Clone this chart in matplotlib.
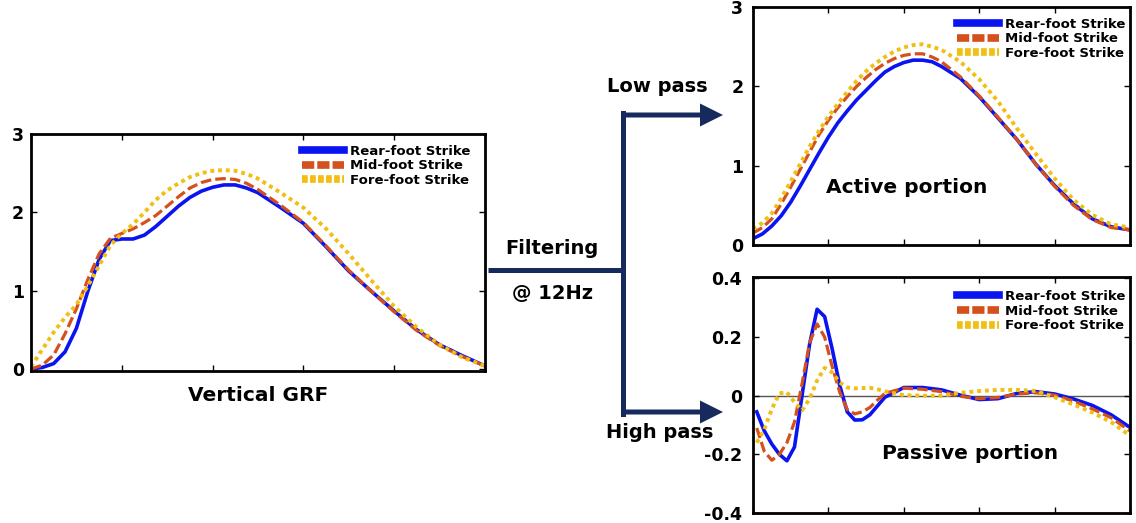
import matplotlib
matplotlib.use('Agg')
import matplotlib.pyplot as plt
from matplotlib.patches import FancyArrow

plt.rcParams['font.family'] = ['DejaVu Sans']
plt.rcParams['font.weight'] = 'bold'
plt.rcParams['axes.unicode_minus'] = False

# stance phase (%) for the raw GRF and the low pass part
stance_pct = [0, 2.5, 5, 7.5, 10, 12.5, 15, 17.5, 20, 22.5, 25, 27.5, 30, 32.5, 35,
              37.5, 40, 42.5, 45, 47.5, 50, 55, 60, 65, 70, 75, 80, 85, 90, 95, 100]

# vertical GRF (BW)
grf_rear = [0.0, 0.02, 0.07, 0.22, 0.52, 0.99, 1.40, 1.64, 1.66, 1.66, 1.71, 1.82, 1.95, 2.08, 2.19,
            2.27, 2.32, 2.35, 2.35, 2.31, 2.25, 2.06, 1.86, 1.56, 1.25, 0.99, 0.74, 0.50, 0.31, 0.17, 0.04]
grf_mid = [0.0, 0.05, 0.18, 0.45, 0.77, 1.14, 1.47, 1.67, 1.73, 1.79, 1.87, 1.96, 2.08, 2.20, 2.31,
           2.38, 2.42, 2.43, 2.42, 2.37, 2.29, 2.09, 1.87, 1.57, 1.26, 0.99, 0.73, 0.49, 0.30, 0.16, 0.04]
grf_fore = [0.03, 0.25, 0.47, 0.66, 0.82, 1.06, 1.32, 1.58, 1.73, 1.85, 2.00, 2.16, 2.28, 2.37, 2.45,
            2.50, 2.53, 2.54, 2.53, 2.49, 2.43, 2.25, 2.06, 1.79, 1.47, 1.13, 0.80, 0.53, 0.31, 0.15, 0.04]

# low pass (active portion)
active_rear = [0.08, 0.14, 0.24, 0.37, 0.54, 0.74, 0.95, 1.16, 1.36, 1.54, 1.69, 1.83, 1.95, 2.07, 2.18,
               2.25, 2.30, 2.33, 2.33, 2.31, 2.25, 2.10, 1.87, 1.60, 1.33, 1.02, 0.75, 0.52, 0.33, 0.23, 0.19]
active_mid = [0.15, 0.22, 0.33, 0.52, 0.73, 0.95, 1.17, 1.39, 1.57, 1.73, 1.87, 2.00, 2.11, 2.21, 2.29,
              2.35, 2.39, 2.41, 2.41, 2.37, 2.31, 2.12, 1.88, 1.61, 1.33, 1.02, 0.74, 0.50, 0.32, 0.22, 0.19]
active_fore = [0.20, 0.28, 0.40, 0.59, 0.80, 1.02, 1.24, 1.44, 1.62, 1.78, 1.93, 2.07, 2.19, 2.29, 2.37,
               2.44, 2.49, 2.52, 2.53, 2.50, 2.46, 2.31, 2.09, 1.81, 1.47, 1.15, 0.84, 0.57, 0.38, 0.26, 0.22]

# high pass (passive portion)
passive_pct = [1, 3, 5, 7, 9, 11, 13, 15, 17, 19, 21, 23, 25, 27, 29, 31, 33, 35,
               40, 45, 50, 55, 60, 65, 70, 75, 80, 85, 90, 95, 100]
passive_rear = [-0.055, -0.12, -0.165, -0.20, -0.222, -0.175, 0.0, 0.175, 0.295, 0.27, 0.16, 0.035, -0.055,
                -0.083, -0.082, -0.065, -0.035, -0.005, 0.028, 0.028, 0.02, 0.002, -0.013, -0.01, 0.008,
                0.014, 0.006, -0.011, -0.033, -0.065, -0.108]
passive_mid = [-0.11, -0.19, -0.22, -0.20, -0.16, -0.09, 0.04, 0.18, 0.245, 0.20, 0.10, 0.012, -0.047,
               -0.062, -0.055, -0.04, -0.015, 0.008, 0.026, 0.022, 0.014, -0.002, -0.01, -0.006, 0.006,
               0.01, 0.002, -0.018, -0.045, -0.075, -0.12]
passive_fore = [-0.16, -0.115, -0.045, 0.008, 0.012, -0.022, -0.05, -0.011, 0.052, 0.095, 0.08, 0.045, 0.028,
                0.025, 0.026, 0.027, 0.022, 0.015, 0.002, 0.0, 0.0, 0.01, 0.016, 0.02, 0.02, 0.016, -0.005,
                -0.03, -0.057, -0.09, -0.136]

labels = ['Rear-foot Strike', 'Mid-foot Strike', 'Fore-foot Strike']
grf_ticks = [0, 1, 2, 3]
passive_ticks = [-0.4, -0.2, 0, 0.2, 0.4]
passive_ticklabels = ['-0.4', '-0.2', '0', '0.2', '0.4']
x_ticks = [0, 20, 40, 60, 80, 100]

BLUE = '#0a14f0'
RED = '#d4501c'
YELLOW = '#f0bf12'
NAVY = '#172a5e'

fig = plt.figure(figsize=(11.36, 5.23), dpi=100)

# overlay in pixel coords for the filter diagram
ov = fig.add_axes([0, 0, 1, 1])
ov.set_xlim(0, 1136)
ov.set_ylim(523, 0)
ov.axis('off')
ov.plot([488, 623], [270, 270], color=NAVY, lw=3.6, solid_capstyle='butt')
ov.plot([623, 623], [113, 414], color=NAVY, lw=3.6, solid_capstyle='projecting')
ov.add_patch(FancyArrow(621, 115, 102, 0, width=5, head_width=23, head_length=23,
                        length_includes_head=True, color=NAVY, lw=0))
ov.add_patch(FancyArrow(621, 412, 102, 0, width=5, head_width=23, head_length=23,
                        length_includes_head=True, color=NAVY, lw=0))
ov.text(657, 87, 'Low pass', ha='center', va='center', fontsize=14, fontweight='bold')
ov.text(660, 433, 'High pass', ha='center', va='center', fontsize=14, fontweight='bold')
ov.text(552, 248, 'Filtering', ha='center', va='center', fontsize=14, fontweight='bold')
ov.text(552, 294, '@ 12Hz', ha='center', va='center', fontsize=14, fontweight='bold')


def style_axes(ax):
    for s in ax.spines.values():
        s.set_linewidth(2)
    ax.set_xlim(0, 100)
    ax.set_xticks(x_ticks)
    ax.set_xticklabels([])
    ax.tick_params(direction='in', length=4, width=1, top=True, right=True,
                   labelsize=12.5, pad=5)
    for t in ax.get_yticklabels():
        t.set_fontweight('bold')


def draw_series(ax, x, rear, mid, fore, anchor):
    ax.plot(x, rear, color=BLUE, lw=2.6, label=labels[0])
    ax.plot(x, mid, color=RED, lw=2.3, dashes=(3.3, 1.3), label=labels[1])
    ax.plot(x, fore, color=YELLOW, lw=2.8, dashes=(1, 1), label=labels[2])
    leg = ax.legend(loc='upper right', bbox_to_anchor=anchor, frameon=False,
                    fontsize=9.5, handlelength=3.2, handletextpad=0.4,
                    labelspacing=0.12, borderpad=0, borderaxespad=0,
                    prop={'weight': 'bold', 'size': 9.5})
    lines = leg.get_lines()
    lines[0].set_linewidth(5.5)
    lines[1].set_linewidth(5.5)
    lines[1].set_dashes((1.6, 0.4))
    lines[2].set_linewidth(5.5)
    lines[2].set_dashes((0.75, 0.3))


# left: raw vertical GRF
ax1 = fig.add_axes([31 / 1136, 1 - 371 / 523, 454 / 1136, 237 / 523])
draw_series(ax1, stance_pct, grf_rear, grf_mid, grf_fore, (0.967, 0.955))
ax1.set_ylim(-0.025, 3.0)
ax1.set_yticks(grf_ticks)
style_axes(ax1)
ax1.set_xlabel('Vertical GRF', fontsize=14.5, fontweight='bold', labelpad=6)

# top right: low pass
ax2 = fig.add_axes([753 / 1136, 1 - 245 / 523, 377 / 1136, 238 / 523])
draw_series(ax2, stance_pct, active_rear, active_mid, active_fore, (0.987, 0.955))
ax2.set_ylim(0, 3.0)
ax2.set_yticks(grf_ticks)
style_axes(ax2)
ax2.tick_params(axis='y', pad=7)
ax2.text(40.8, 0.72, 'Active portion', ha='center', va='center', fontsize=14.5, fontweight='bold')

# bottom right: high pass
ax3 = fig.add_axes([753 / 1136, 1 - 513 / 523, 377 / 1136, 236 / 523])
ax3.axhline(0, color='#555555', lw=1, zorder=1)
draw_series(ax3, passive_pct, passive_rear, passive_mid, passive_fore, (0.987, 0.945))
ax3.set_ylim(-0.4, 0.405)
ax3.set_yticks(passive_ticks)
ax3.set_yticklabels(passive_ticklabels)
style_axes(ax3)
ax3.tick_params(axis='y', pad=8)
ax3.text(57.5, -0.198, 'Passive portion', ha='center', va='center', fontsize=14.5, fontweight='bold')

fig.savefig('out.png', dpi=100)
